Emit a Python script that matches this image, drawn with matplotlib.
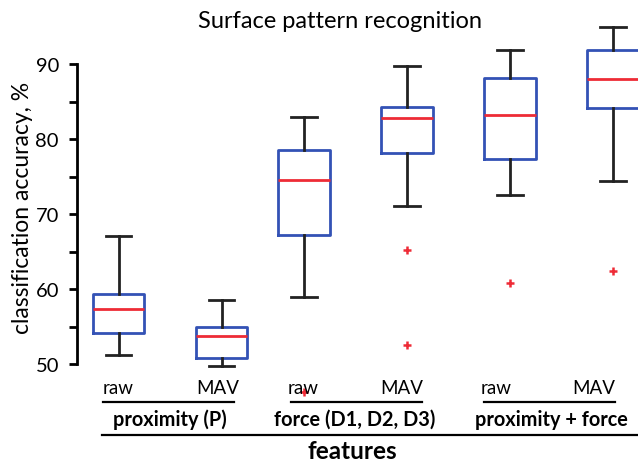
import matplotlib
matplotlib.use("Agg")
import matplotlib.pyplot as plt
from matplotlib.lines import Line2D

plt.rcParams['font.family'] = ['Lato', 'DejaVu Sans']

# box statistics (classification accuracy, %)
positions = [1.0, 2.0, 2.8, 3.8, 4.8, 5.8]
medians = [57.4, 53.8, 74.5, 82.8, 83.2, 88.0]
q1 = [54.1, 50.8, 67.2, 78.2, 77.4, 84.2]
q3 = [59.4, 55.0, 78.6, 84.3, 88.2, 91.9]
whis_lo = [51.2, 49.7, 59.0, 71.1, 72.5, 74.4]
whis_hi = [67.1, 58.5, 83.0, 89.7, 91.9, 95.0]
outliers = [[], [], [46.3], [65.2, 52.5], [60.8], [62.4]]

sub_labels = ["raw", "MAV", "raw", "MAV", "raw", "MAV"]
group_labels = ["proximity (P)", "force (D1, D2, D3)", "proximity + force"]

W, H = 638, 464
fig = plt.figure(figsize=(W / 100, H / 100), dpi=100)

def px(x, y):
    return x / W, 1 - y / H

ax = fig.add_axes([77 / W, 1 - 365 / H, 1 - 77 / W, 300 / H])

stats = []
for i in range(len(positions)):
    stats.append(dict(med=medians[i], q1=q1[i], q3=q3[i],
                      whislo=whis_lo[i], whishi=whis_hi[i], fliers=outliers[i]))

blue = '#3352B5'
red = '#EE2B36'
dark = '#222222'
bp = ax.bxp(stats, positions=positions, widths=0.5, showfliers=True,
            boxprops=dict(color=blue, linewidth=2),
            medianprops=dict(color=red, linewidth=2),
            whiskerprops=dict(color=dark, linewidth=2, linestyle='-'),
            capprops=dict(color=dark, linewidth=2),
            flierprops=dict(marker='+', markeredgecolor=red, markersize=6,
                            markeredgewidth=1.8, linestyle='none'))
for key in bp:
    for art in bp[key]:
        art.set_clip_on(False)

ax.set_xlim(0.597, 6.04)
ax.set_ylim(50, 90)
ax.set_yticks([50, 60, 70, 80, 90])
ax.set_yticks([55, 65, 75, 85], minor=True)
ax.set_xticks([])
for s in ['top', 'right', 'bottom']:
    ax.spines[s].set_visible(False)
ax.spines['left'].set_linewidth(2)
ax.tick_params(axis='y', which='both', length=6, width=2, direction='out',
               labelsize=14.5, pad=7)
ax.set_ylabel("classification accuracy, %", fontsize=16.5)
ax.yaxis.set_label_coords(-0.078, 0.523)
ax.patch.set_visible(False)

fig.text(*px(340, 22), "Surface pattern recognition", fontsize=17,
         ha='center', va='center')

sub_x = [118, 218, 303, 402, 496, 594]
for x, lab in zip(sub_x, sub_labels):
    fig.text(*px(x, 389), lab, fontsize=13.5, ha='center', va='center')

under = [(103, 234), (291, 422), (484, 615)]
group_x = [170, 355, 551]
for (x0, x1), gx, lab in zip(under, group_x, group_labels):
    fig.add_artist(Line2D([x0 / W, x1 / W], [1 - 403 / H] * 2,
                          color='black', linewidth=1.6))
    fig.text(*px(gx, 420), lab, fontsize=14.3, fontweight='bold',
             ha='center', va='center')

fig.add_artist(Line2D([102 / W, 1.0], [1 - 436 / H] * 2, color='black',
                      linewidth=1.6))
fig.text(*px(352, 452), "features", fontsize=17.5, fontweight='bold',
         ha='center', va='center')

fig.savefig("out.png", dpi=100)
